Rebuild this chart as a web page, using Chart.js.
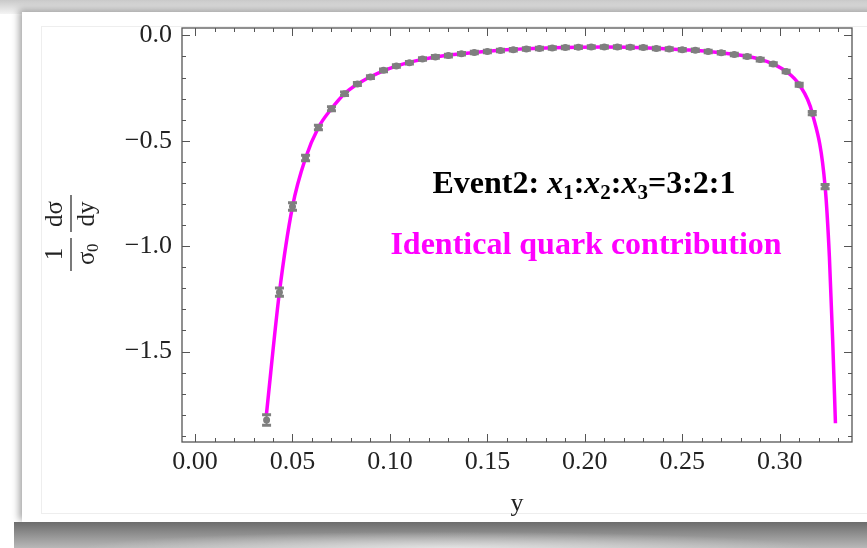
<!DOCTYPE html>
<html>
<head>
<meta charset="utf-8">
<script src="https://cdn.jsdelivr.net/npm/chart.js@4.4.1/dist/chart.umd.min.js"></script>
<style>
  body{margin:0;width:867px;height:548px;position:relative;overflow:hidden;background:#fff}
  .top{position:absolute;left:0;top:0;width:867px;height:14px;background:linear-gradient(#c9c9c9,#f4f4f4)}
  .card{position:absolute;left:22px;top:12px;width:900px;height:510px;background:#fff;box-shadow:-3px -2px 7px rgba(0,0,0,.35)}
  .inner{position:absolute;left:41px;top:26px;width:840px;height:486px;border:1px solid #eee}
  .curl{position:absolute;left:14px;top:522px;width:870px;height:26px;
    background:radial-gradient(ellipse 60% 90% at 50% 100%, rgba(255,255,255,.6), rgba(255,255,255,0) 70%), linear-gradient(#6c6c6c,#b8b8b8)}
  canvas{position:absolute;left:0;top:0}
</style>
</head>
<body>
<div class="top"></div>
<div class="card"></div>
<div class="inner"></div>
<div class="curl"></div>
<canvas id="c" width="867" height="548"></canvas>
<script>
// data
const ptX = [0.0367,0.0433,0.0500,0.0567,0.0633,0.0700,0.0767,0.0833,0.0900,0.0967,
             0.1033,0.1100,0.1167,0.1233,0.1300,0.1367,0.1433,0.1500,0.1567,0.1633,
             0.1700,0.1767,0.1833,0.1900,0.1967,0.2033,0.2100,0.2167,0.2233,0.2300,
             0.2367,0.2433,0.2500,0.2567,0.2633,0.2700,0.2767,0.2833,0.2900,0.2967,
             0.3033,0.3100,0.3167,0.3233];
const ptY = [-1.825,-1.218,-0.812,-0.582,-0.437,-0.348,-0.277,-0.231,-0.198,-0.166,
             -0.145,-0.130,-0.112,-0.102,-0.096,-0.087,-0.081,-0.076,-0.072,-0.068,
             -0.065,-0.062,-0.060,-0.058,-0.056,-0.055,-0.055,-0.055,-0.056,-0.058,
             -0.062,-0.065,-0.068,-0.071,-0.076,-0.082,-0.091,-0.100,-0.115,-0.136,
             -0.171,-0.234,-0.369,-0.717];
const ptErr = [0.025,0.020,0.018,0.013,0.011,0.009,0.008,0.007,0.006,0.006,
               0.006,0.006,0.006,0.006,0.006,0.006,0.006,0.006,0.006,0.006,
               0.006,0.006,0.006,0.006,0.006,0.006,0.006,0.006,0.006,0.006,
               0.006,0.006,0.006,0.006,0.006,0.006,0.006,0.006,0.006,0.006,
               0.006,0.007,0.008,0.010];

const curveX = [0.0366,0.0433,0.0500,0.0567,0.0633,0.0700,0.0767,0.0833,
                0.0900,0.0967,0.1033,0.1100,0.1167,0.1233,0.1300,0.1433,0.1567,0.1700,
                0.1833,0.1967,0.2100,0.2233,0.2367,0.2500,0.2633,0.2767,0.2900,0.2967,
                0.3033,0.3100,0.3167,0.3233,0.3255,0.3272,0.3286];
const curveY = [-1.800,-1.218,-0.812,-0.582,-0.437,-0.348,-0.277,-0.231,
                -0.196,-0.168,-0.146,-0.128,-0.114,-0.103,-0.094,-0.081,-0.071,-0.064,
                -0.059,-0.056,-0.055,-0.056,-0.061,-0.068,-0.076,-0.090,-0.114,-0.136,
                -0.171,-0.234,-0.369,-0.717,-1.050,-1.450,-1.840];

const xTicks = [0,0.05,0.10,0.15,0.20,0.25,0.30];
const xTickLabels = ["0.00","0.05","0.10","0.15","0.20","0.25","0.30"];
const yTicks = [0,-0.5,-1.0,-1.5];
const yTickLabels = ["0.0","\u22120.5","\u22121.0","\u22121.5"];

const SERIF = "'Liberation Serif', 'Times New Roman', serif";
const FRAME = "#555";

// error bars, frame with inward ticks, titles and the two labels
const decor = {
  id:"decor",
  afterDatasetsDraw(chart){
    const ctx = chart.ctx, ys = chart.scales.y;
    const meta = chart.getDatasetMeta(0);
    ctx.save();
    ctx.strokeStyle = "#7f7f7f";
    meta.data.forEach((pt,i)=>{
      const y1 = ys.getPixelForValue(ptY[i]+ptErr[i]);
      const y2 = ys.getPixelForValue(ptY[i]-ptErr[i]);
      ctx.lineWidth = 2;
      ctx.beginPath(); ctx.moveTo(pt.x,y1); ctx.lineTo(pt.x,y2); ctx.stroke();
      ctx.lineWidth = 3;
      ctx.beginPath(); ctx.moveTo(pt.x-4.5,y1); ctx.lineTo(pt.x+4.5,y1);
      ctx.moveTo(pt.x-4.5,y2); ctx.lineTo(pt.x+4.5,y2); ctx.stroke();
    });
    ctx.restore();
  },
  afterDraw(chart){
    const ctx = chart.ctx, a = chart.chartArea, xs = chart.scales.x, ys = chart.scales.y;
    ctx.save();
    ctx.strokeStyle = FRAME; ctx.lineWidth = 1.3;
    ctx.strokeRect(a.left, a.top, a.right-a.left, a.bottom-a.top);
    ctx.lineWidth = 1;
    ctx.beginPath();
    for(let i=0;i<=33;i++){
      const px = Math.round(xs.getPixelForValue(i/100))+0.5;
      const len = (i%5===0) ? 8 : 4;
      ctx.moveTo(px,a.bottom); ctx.lineTo(px,a.bottom-len);
      ctx.moveTo(px,a.top); ctx.lineTo(px,a.top+len);
    }
    for(let i=0;i<=19;i++){
      const py = Math.round(ys.getPixelForValue(-i/10))+0.5;
      const len = (i%5===0) ? 8 : 4;
      ctx.moveTo(a.left,py); ctx.lineTo(a.left+len,py);
      ctx.moveTo(a.right,py); ctx.lineTo(a.right-len,py);
    }
    ctx.stroke();

    // x title
    ctx.fillStyle = "#222";
    ctx.font = "26px "+SERIF;
    ctx.textAlign = "center"; ctx.textBaseline = "alphabetic";
    ctx.fillText("y", (a.left+a.right)/2, 511);

    // y title: 1/σ0 dσ/dy, rotated
    ctx.save();
    ctx.translate(71, 234);
    ctx.rotate(-Math.PI/2);
    ctx.strokeStyle = "#222"; ctx.lineWidth = 1.2;
    ctx.beginPath();
    ctx.moveTo(-37,0); ctx.lineTo(-4,0);
    ctx.moveTo(2,0); ctx.lineTo(39,0);
    ctx.stroke();
    ctx.font = "25px "+SERIF;
    ctx.textAlign = "center";
    ctx.fillText("1", -20, -9);
    ctx.fillText("d\u03c3", 20, -9);
    ctx.fillText("dy", 20, 23);
    ctx.textAlign = "left";
    ctx.fillText("\u03c3", -31, 23);
    ctx.font = "17px "+SERIF;
    ctx.fillText("0", -18, 27);
    ctx.restore();

    // annotations
    const B = "bold 32px "+SERIF, BI = "italic bold 32px "+SERIF, S = "bold 21px "+SERIF;
    const parts = [["Event2: ",B,0],["x",BI,0],["1",S,6],[":",B,0],["x",BI,0],["2",S,6],
                   [":",B,0],["x",BI,0],["3",S,6],["=3:2:1",B,0]];
    let w = 0;
    parts.forEach(p=>{ ctx.font = p[1]; w += ctx.measureText(p[0]).width; });
    let x = 584 - w/2;
    ctx.textAlign = "left"; ctx.fillStyle = "#000";
    parts.forEach(p=>{ ctx.font = p[1]; ctx.fillText(p[0], x, 193+p[2]); x += ctx.measureText(p[0]).width; });

    ctx.font = B; ctx.fillStyle = "#ff00ff"; ctx.textAlign = "center";
    ctx.fillText("Identical quark contribution", 586, 254);
    ctx.restore();
  }
};

new Chart(document.getElementById("c"), {
  type:"scatter",
  data:{
    datasets:[
      { label:"points", data: ptX.map((x,i)=>({x, y:ptY[i]})),
        pointStyle:"circle", pointRadius:3.5, pointBackgroundColor:"#7f7f7f", pointBorderWidth:0,
        showLine:false, order:0 },
      { label:"curve", data: curveX.map((x,i)=>({x, y:curveY[i]})),
        showLine:true, borderColor:"#ff00ff", borderWidth:3.5, pointRadius:0,
        cubicInterpolationMode:"monotone", order:1 }
    ]
  },
  options:{
    responsive:false, animation:false,
    plugins:{ legend:{display:false}, tooltip:{enabled:false} },
    layout:{ padding:{ left:0, top:28, right:15, bottom:0 } },
    scales:{
      x:{ type:"linear", min:-0.0067, max:0.3371,
        afterBuildTicks: s=>{ s.ticks = xTicks.map(v=>({value:v})); },
        afterFit: s=>{ s.height = 106; },
        grid:{ display:false, drawTicks:false }, border:{ display:false },
        ticks:{ padding:5, autoSkip:false, maxRotation:0, color:"#222",
          font:{ family:SERIF, size:26 }, callback:(v,i)=>xTickLabels[i] } },
      y:{ type:"linear", min:-1.929, max:0.035,
        afterBuildTicks: s=>{ s.ticks = yTicks.map(v=>({value:v})); },
        afterFit: s=>{ s.width = 182; },
        grid:{ display:false, drawTicks:false }, border:{ display:false },
        ticks:{ padding:10, autoSkip:false, color:"#222",
          font:{ family:SERIF, size:26 }, callback:(v,i)=>yTickLabels[i] } }
    }
  },
  plugins:[decor]
});
</script>
</body>
</html>
